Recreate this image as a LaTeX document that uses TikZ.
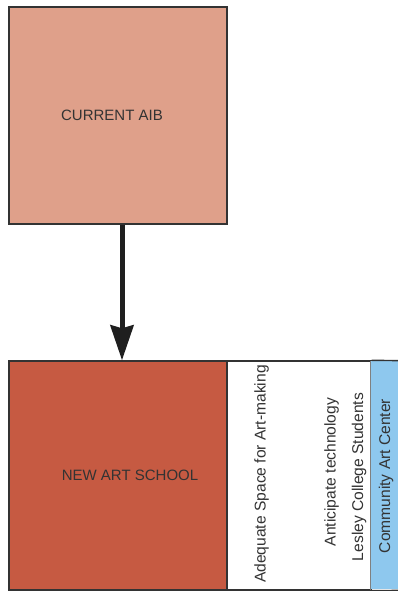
\documentclass[tikz,border=0pt]{standalone}
\usepackage{fontspec}
\setmainfont{Liberation Sans}
\usetikzlibrary{arrows.meta}
\definecolor{oldfill}{HTML}{DFA08A}
\definecolor{newfill}{HTML}{C65A42}
\definecolor{commfill}{HTML}{8EC8EE}
\definecolor{edgegray}{HTML}{333333}
\tikzset{
  block/.style={draw=edgegray, line width=1.4pt, inner sep=0pt, text=edgegray,
    font=\fontsize{15}{18}\selectfont},
  sidetext/.style={rotate=90, inner sep=0pt, text=edgegray,
    font=\fontsize{15.6}{18}\selectfont},
  moveline/.style={line width=5pt, draw=black!88,
    -{Stealth[length=35pt, width=23pt, inset=3pt]}}
}

\begin{document}
\begin{tikzpicture}[x=1pt, y=1pt]
  \useasboundingbox (0,0) rectangle (398,591);
  \node[block, fill=oldfill, minimum width=218pt, minimum height=217pt] (aib) at (118,475.5) {};
  \node[text=edgegray, font=\fontsize{15}{18}\selectfont] (aibtext) at (112,476) {CURRENT AIB};
  \node[block, fill=newfill, minimum width=218pt, minimum height=229pt] (school) at (118,115.5) {};
  \node[text=edgegray, font=\fontsize{15}{18}\selectfont] (schooltext) at (130,116) {NEW ART SCHOOL};
  \node[block, fill=white, minimum width=144pt, minimum height=229pt] (needs) at (299,115.5) {};
  \node[block, fill=commfill, draw=none, minimum width=40pt, minimum height=228pt] (comm) at (391,115.5) {};
  \draw[edgegray, line width=1.4pt] (needs.north east) -- (comm.north east);
  \draw[edgegray, line width=1.4pt] (needs.south east) -- (comm.south east);
  \draw[gray, line width=1.2pt] (comm.north west) -- (comm.south west);
  \node[sidetext] (space) at (261.5,117) {Adequate Space for Art-making};
  \node[sidetext] (tech) at (331.5,119) {Anticipate technology};
  \node[sidetext] (lesley) at (359,114) {Lesley College Students};
  \node[sidetext] (commtext) at (386,115) {Community Art Center};
  \draw[moveline] ([xshift=4pt]aib.south) -- ([xshift=4pt]school.north);
\end{tikzpicture}
\end{document}
